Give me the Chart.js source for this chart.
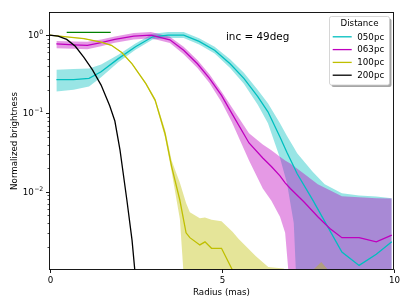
<!DOCTYPE html>
<html>
<head>
<meta charset="utf-8">
<script src="https://cdn.jsdelivr.net/npm/chart.js@4.4.0/dist/chart.umd.min.js"></script>
<style>
  html, body { margin: 0; padding: 0; background: #fff; }
  #wrap { width: 409px; height: 307px; }
</style>
</head>
<body>
<div id="wrap"><canvas id="chart" width="409" height="307"></canvas></div>
<script>
// radial profiles, radius in mas
const radius050 = [0.2, 0.7, 1.15, 1.5, 2.0, 2.5, 3.0, 3.45, 3.9, 4.35, 4.8, 5.25, 5.65, 6.05, 6.35, 6.7, 6.9, 7.1, 7.2, 7.65, 8.0, 8.5, 9.0, 9.5, 9.95];
const bright050 = [0.27, 0.27, 0.28, 0.34, 0.5, 0.71, 0.95, 1.0, 1.0, 0.83, 0.64, 0.43, 0.28, 0.165, 0.105, 0.05, 0.032, 0.021, 0.017, 0.0079, 0.0042, 0.0017, 0.00115, 0.0016, 0.0023];
const upper050 = [0.36, 0.37, 0.375, 0.42, 0.56, 0.78, 1.04, 1.09, 1.09, 0.91, 0.71, 0.49, 0.33, 0.2, 0.135, 0.075, 0.052, 0.037, 0.031, 0.018, 0.0125, 0.0096, 0.009, 0.0087, 0.0083];
const lower050 = [0.19, 0.2, 0.22, 0.29, 0.45, 0.65, 0.88, 0.92, 0.92, 0.76, 0.58, 0.38, 0.24, 0.13, 0.075, 0.027, 0.013, 0.004, 0.0004, 0.0003, 0.0003, 0.0003, 0.0003, 0.0003, 0.0003];

const radius063 = [0.2, 0.7, 1.1, 1.5, 1.9, 2.45, 2.95, 3.5, 3.9, 4.3, 4.65, 5.0, 5.3, 5.8, 6.2, 6.45, 6.7, 6.85, 7.0, 7.4, 7.8, 8.15, 8.5, 9.0, 9.5, 9.95];
const bright063 = [0.77, 0.75, 0.74, 0.8, 0.88, 0.97, 1.0, 0.87, 0.64, 0.43, 0.28, 0.17, 0.1, 0.042, 0.027, 0.021, 0.016, 0.013, 0.011, 0.0074, 0.0048, 0.0034, 0.0026, 0.0026, 0.0023, 0.0028];
const upper063 = [0.84, 0.83, 0.82, 0.88, 0.96, 1.06, 1.09, 0.95, 0.71, 0.48, 0.315, 0.19, 0.12, 0.056, 0.04, 0.034, 0.028, 0.025, 0.023, 0.017, 0.0125, 0.0105, 0.0088, 0.0085, 0.0083, 0.0082];
const lower063 = [0.68, 0.67, 0.66, 0.72, 0.8, 0.88, 0.91, 0.79, 0.57, 0.38, 0.245, 0.14, 0.078, 0.025, 0.011, 0.0077, 0.0048, 0.003, 0.0005, 0.0003, 0.0003, 0.0003, 0.0003, 0.0003, 0.0003, 0.0003];

const radius100 = [0, 0.5, 1.0, 1.5, 1.8, 2.1, 2.4, 2.8, 3.07, 3.36, 3.55, 3.79, 3.97, 4.08, 4.37, 4.52, 4.71, 5.0, 5.32, 5.5, 6.0, 6.36, 6.8, 7.0, 7.6, 7.9, 8.2, 9.0, 10];
const bright100 = [1.0, 0.95, 0.9, 0.81, 0.74, 0.6, 0.43, 0.24, 0.148, 0.055, 0.021, 0.0078, 0.003, 0.0026, 0.0021, 0.0023, 0.0019, 0.0019, 0.001, 0.0005, null, null, null, null, null, null, null, null, null];
const upper100 = [1.01, 0.96, 0.91, 0.82, 0.75, 0.61, 0.44, 0.25, 0.156, 0.062, 0.025, 0.013, 0.0072, 0.0055, 0.0046, 0.0047, 0.0044, 0.0042, 0.0031, 0.0025, 0.0015, 0.0011, 0.00105, 0.00095, 0.00095, 0.00127, 0.0009, 0.0006, 0.0006];
const lower100 = [0.99, 0.94, 0.89, 0.8, 0.73, 0.59, 0.42, 0.235, 0.14, 0.049, 0.018, 0.0045, 0.0003, 0.0003, 0.0003, 0.0003, 0.0003, 0.0003, 0.0003, 0.0003, 0.0003, 0.0003, 0.0003, 0.0003, 0.0003, 0.0003, 0.0003, 0.0003, 0.0003];

const radius200 = [0, 0.25, 0.5, 0.75, 1.0, 1.25, 1.5, 1.75, 1.9, 2.05, 2.25, 2.4, 2.5];
const bright200 = [1.0, 0.97, 0.88, 0.72, 0.52, 0.36, 0.23, 0.125, 0.08, 0.034, 0.0078, 0.0024, 0.0008];

// beam bar (green)
const beamRadius = [0.5, 1.78];
const beamLevel = [1.08, 1.08];

const distanceLabels = ['050pc', '063pc', '100pc', '200pc'];
const lineColors = ['#00bfbf', '#bf00bf', '#bfbf00', '#000000'];
const bandColors = ['rgba(0,191,191,0.4)', 'rgba(191,0,191,0.4)', 'rgba(191,191,0,0.4)'];

const xTicks = [0, 5, 10];
const yTicks = [1, 0.1, 0.01];
const yTickExp = ['0', '\u22121', '\u22122'];
const annotation = 'inc = 49deg';
const annotationAt = [5.13, 0.86];

const FONT = '"DejaVu Sans", sans-serif';

function pts(xs, ys) {
  return xs.map((x, i) => ({ x: x, y: ys[i] }));
}

function band(xs, hi, lo, color, order) {
  return [
    { data: pts(xs, hi), borderWidth: 0, pointRadius: 0, fill: false, order: order },
    { data: pts(xs, lo), borderWidth: 0, pointRadius: 0, backgroundColor: color, fill: '-1', order: order }
  ];
}

function line(xs, ys, color, order) {
  return { data: pts(xs, ys), borderColor: color, borderWidth: 1.3, pointRadius: 0, fill: false, tension: 0, order: order };
}

const datasets = [
  ...band(radius050, upper050, lower050, bandColors[0], 10),
  ...band(radius063, upper063, lower063, bandColors[1], 9),
  ...band(radius100, upper100, lower100, bandColors[2], 8),
  line(radius050, bright050, lineColors[0], 4),
  line(radius063, bright063, lineColors[1], 3),
  line(radius100, bright100, lineColors[2], 2),
  line(radius200, bright200, lineColors[3], 1),
  line(beamRadius, beamLevel, '#008000', 0)
];

const decor = {
  id: 'decor',
  afterDraw(chart) {
    const ctx = chart.ctx;
    const a = chart.chartArea;
    const xs = chart.scales.x, ys = chart.scales.y;
    ctx.save();

    // frame
    ctx.strokeStyle = '#000';
    ctx.lineWidth = 0.9;
    ctx.strokeRect(a.left, a.top, a.right - a.left, a.bottom - a.top);

    // x ticks
    ctx.fillStyle = '#000';
    ctx.font = '8.7px ' + FONT;
    ctx.textAlign = 'center';
    ctx.textBaseline = 'alphabetic';
    xTicks.forEach(v => {
      const px = Math.round(xs.getPixelForValue(v)) + 0.5;
      ctx.beginPath();
      ctx.moveTo(px, a.bottom);
      ctx.lineTo(px, a.bottom + 3.5);
      ctx.stroke();
      ctx.fillText(String(v), px, a.bottom + 13.5);
    });

    // y ticks, major and minor
    for (let k = -3; k <= 0; k++) {
      for (let m = 1; m <= 9; m++) {
        const v = m * Math.pow(10, k);
        if (v < ys.min || v > ys.max) continue;
        const py = Math.round(ys.getPixelForValue(v)) + 0.5;
        ctx.beginPath();
        ctx.lineWidth = m === 1 ? 0.9 : 0.7;
        ctx.moveTo(a.left, py);
        ctx.lineTo(a.left - (m === 1 ? 3.5 : 2), py);
        ctx.stroke();
      }
    }
    yTicks.forEach((v, i) => {
      const py = ys.getPixelForValue(v);
      ctx.font = '8.7px ' + FONT;
      const wb = ctx.measureText('10').width;
      ctx.font = '6.2px ' + FONT;
      const we = ctx.measureText(yTickExp[i]).width;
      const x0 = a.left - 6.5 - wb - we;
      ctx.textAlign = 'left';
      ctx.font = '8.7px ' + FONT;
      ctx.fillText('10', x0, py + 3);
      ctx.font = '6.2px ' + FONT;
      ctx.fillText(yTickExp[i], x0 + wb + 0.3, py - 1);
    });

    // axis titles
    ctx.font = '8.7px ' + FONT;
    ctx.textAlign = 'center';
    ctx.fillText('Radius (mas)', (a.left + a.right) / 2, 295);
    ctx.save();
    ctx.translate(17, (a.top + a.bottom) / 2);
    ctx.rotate(-Math.PI / 2);
    ctx.fillText('Normalized brightness', 0, 0);
    ctx.restore();

    // annotation
    ctx.font = '10.4px ' + FONT;
    ctx.textAlign = 'left';
    ctx.fillText(annotation, xs.getPixelForValue(annotationAt[0]), ys.getPixelForValue(annotationAt[1]));

    // legend
    const lx = 329.5, ly = 16.5, lw = 60, lh = 68.5;
    ctx.fillStyle = 'rgba(0,0,0,0.35)';
    ctx.beginPath();
    ctx.roundRect(lx + 2, ly + 2, lw, lh, 2);
    ctx.fill();
    ctx.fillStyle = '#fff';
    ctx.strokeStyle = '#cccccc';
    ctx.lineWidth = 0.8;
    ctx.beginPath();
    ctx.roundRect(lx, ly, lw, lh, 2);
    ctx.fill();
    ctx.stroke();

    ctx.fillStyle = '#000';
    ctx.font = '8.7px ' + FONT;
    ctx.textAlign = 'center';
    ctx.textBaseline = 'middle';
    ctx.fillText('Distance', lx + lw / 2, ly + 7);
    ctx.textAlign = 'left';
    distanceLabels.forEach((lab, i) => {
      const y = ly + 20.3 + i * 12.8;
      ctx.strokeStyle = lineColors[i];
      ctx.lineWidth = 1.3;
      ctx.beginPath();
      ctx.moveTo(332.7, y);
      ctx.lineTo(351.7, y);
      ctx.stroke();
      ctx.fillStyle = '#000';
      ctx.fillText(lab, 357.3, y + 0.5);
    });

    ctx.restore();
  }
};

new Chart(document.getElementById('chart').getContext('2d'), {
  type: 'line',
  data: { datasets: datasets },
  options: {
    responsive: false,
    animation: false,
    devicePixelRatio: 1,
    layout: { padding: { left: 49.5, right: 15.5, top: 12.5, bottom: 37.5 } },
    scales: {
      x: { type: 'linear', min: 0, max: 10, display: false },
      y: { type: 'logarithmic', min: 0.00102, max: 1.94, display: false }
    },
    plugins: {
      legend: { display: false },
      tooltip: { enabled: false }
    }
  },
  plugins: [decor]
});
</script>
</body>
</html>
